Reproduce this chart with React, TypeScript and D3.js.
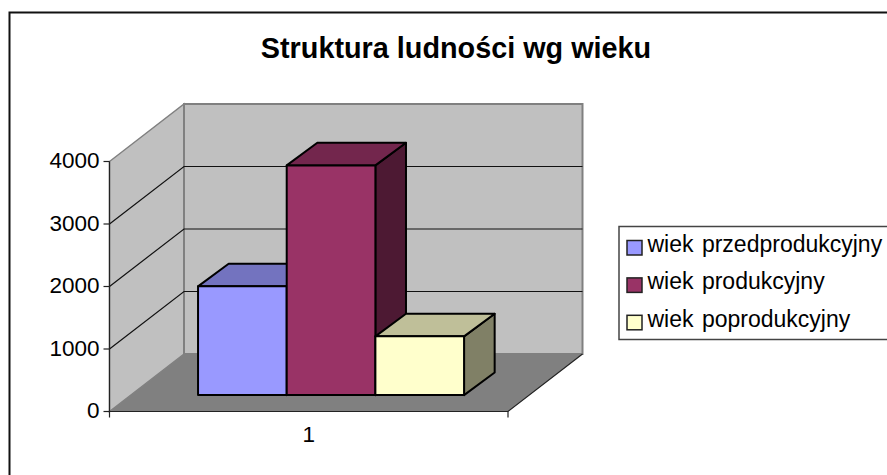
import React from 'react';
import * as d3 from 'd3';

const title = 'Struktura ludności wg wieku';
const categories = ['1'];
const seriesNames = ['wiek przedprodukcyjny', 'wiek produkcyjny', 'wiek poprodukcyjny'];
const seriesValues = [1740, 3675, 940];
const yTicks = [0, 1000, 2000, 3000, 4000];

const frontColors = ['#9999ff', '#993366', '#ffffcc'];
const topColors = ['#7373bf', '#73264d', '#bfbf99'];
const sideColors = ['#5c5c99', '#4d1933', '#808066'];

const width = 887;
const height = 475;

// depth of the 3d box, in pixels
const depthX = 74.5;
const depthY = -57.5;
const barOffsetX = 22.3;
const barOffsetY = -16.4;
const barDepthX = 30.6;
const barDepthY = -22.6;

const y = d3.scaleLinear().domain([0, 4000]).range([411.5, 161.5]);
const x0 = d3.scaleBand().domain(categories).range([109.5, 508]).paddingInner(0).paddingOuter(0.249);
const x1 = d3.scaleBand().domain(seriesNames).range([0, x0.bandwidth()]);

const pts = (p: number[][]) => {
  const line = d3.line();
  return line(p as [number, number][]) + 'Z';
};

const xLeft = x0.range()[0];
const xRight = x0.range()[1];
const yBase = y(0);
const yTop = y(4000);

export default function App() {
  const barX = (name: string) => (x0('1') as number) + (x1(name) as number) + barOffsetX;
  const bw = x1.bandwidth();

  return (
    <svg width={width} height={height} style={{ position: 'absolute', left: 0, top: 0, fontFamily: '"Liberation Sans", Arial, sans-serif' }}>
      <rect x={0} y={0} width={width} height={height} fill="#ffffff" />
      {/* outer frame */}
      <rect x={9.5} y={12.5} width={width + 10} height={height + 10} fill="#ffffff" stroke="#111111" strokeWidth={2} />

      <text x={456} y={58} textAnchor="middle" fontSize={28.8} fontWeight="bold" fill="#000">{title}</text>

      {/* walls and floor */}
      <path d={pts([[xLeft, yBase], [xLeft + depthX, yBase + depthY], [xLeft + depthX, yTop + depthY], [xLeft, yTop]])} fill="#c0c0c0" stroke="#808080" strokeWidth={1.5} />
      <path d={pts([[xLeft + depthX, yBase + depthY], [xRight + depthX, yBase + depthY], [xRight + depthX, yTop + depthY], [xLeft + depthX, yTop + depthY]])} fill="#c0c0c0" stroke="#808080" strokeWidth={2} />
      <path d={pts([[xLeft, yBase], [xRight, yBase], [xRight + depthX, yBase + depthY], [xLeft + depthX, yBase + depthY]])} fill="#808080" stroke="none" />

      {/* gridlines */}
      {yTicks.slice(1, -1).map(t => (
        <path key={t} d={d3.line()([[xLeft, y(t)], [xLeft + depthX, y(t) + depthY], [xRight + depthX, y(t) + depthY]]) as string} fill="none" stroke="#111" strokeWidth={1.2} />
      ))}

      {/* floor edges and axes */}
      <path d={d3.line()([[xLeft, yTop], [xLeft, yBase], [xRight, yBase], [xRight + depthX, yBase + depthY]]) as string} fill="none" stroke="#222" strokeWidth={1.2} />
      {yTicks.map(t => (
        <g key={t}>
          <line x1={xLeft - 6} x2={xLeft} y1={y(t)} y2={y(t)} stroke="#222" strokeWidth={1.2} />
          <text x={xLeft - 10} y={y(t) + 6.8} textAnchor="end" fontSize={22.5} fill="#000">{t}</text>
        </g>
      ))}
      <line x1={xLeft} x2={xLeft} y1={yBase} y2={yBase + 6} stroke="#222" strokeWidth={1.2} />
      <line x1={xRight} x2={xRight} y1={yBase} y2={yBase + 6} stroke="#222" strokeWidth={1.2} />
      {categories.map(c => (
        <text key={c} x={(x0(c) as number) + x0.bandwidth() / 2} y={442} textAnchor="middle" fontSize={22.5} fill="#000">{c}</text>
      ))}

      {/* bars, drawn left to right so nearer faces overlap */}
      {seriesNames.map((name, i) => {
        const l = barX(name);
        const r = l + bw;
        const b = yBase + barOffsetY;
        const t = y(seriesValues[i]) + barOffsetY;
        return (
          <g key={name} stroke="#000" strokeWidth={2} strokeLinejoin="round">
            <path d={pts([[r, t], [r + barDepthX, t + barDepthY], [r + barDepthX, b + barDepthY], [r, b]])} fill={sideColors[i]} />
            <path d={pts([[l, t], [l + barDepthX, t + barDepthY], [r + barDepthX, t + barDepthY], [r, t]])} fill={topColors[i]} />
            <rect x={l} y={t} width={bw} height={b - t} fill={frontColors[i]} />
          </g>
        );
      })}

      {/* legend */}
      <rect x={619} y={226.5} width={280} height={113} fill="#fff" stroke="#444" strokeWidth={1.5} />
      {seriesNames.map((name, i) => (
        <g key={name}>
          <rect x={627} y={240.5 + i * 37.4} width={15} height={14.5} fill={frontColors[i]} stroke="#222" strokeWidth={1.5} />
          <text x={647.5} y={252 + i * 37.4} fontSize={23} wordSpacing={2} fill="#000">{name}</text>
        </g>
      ))}
    </svg>
  );
}
